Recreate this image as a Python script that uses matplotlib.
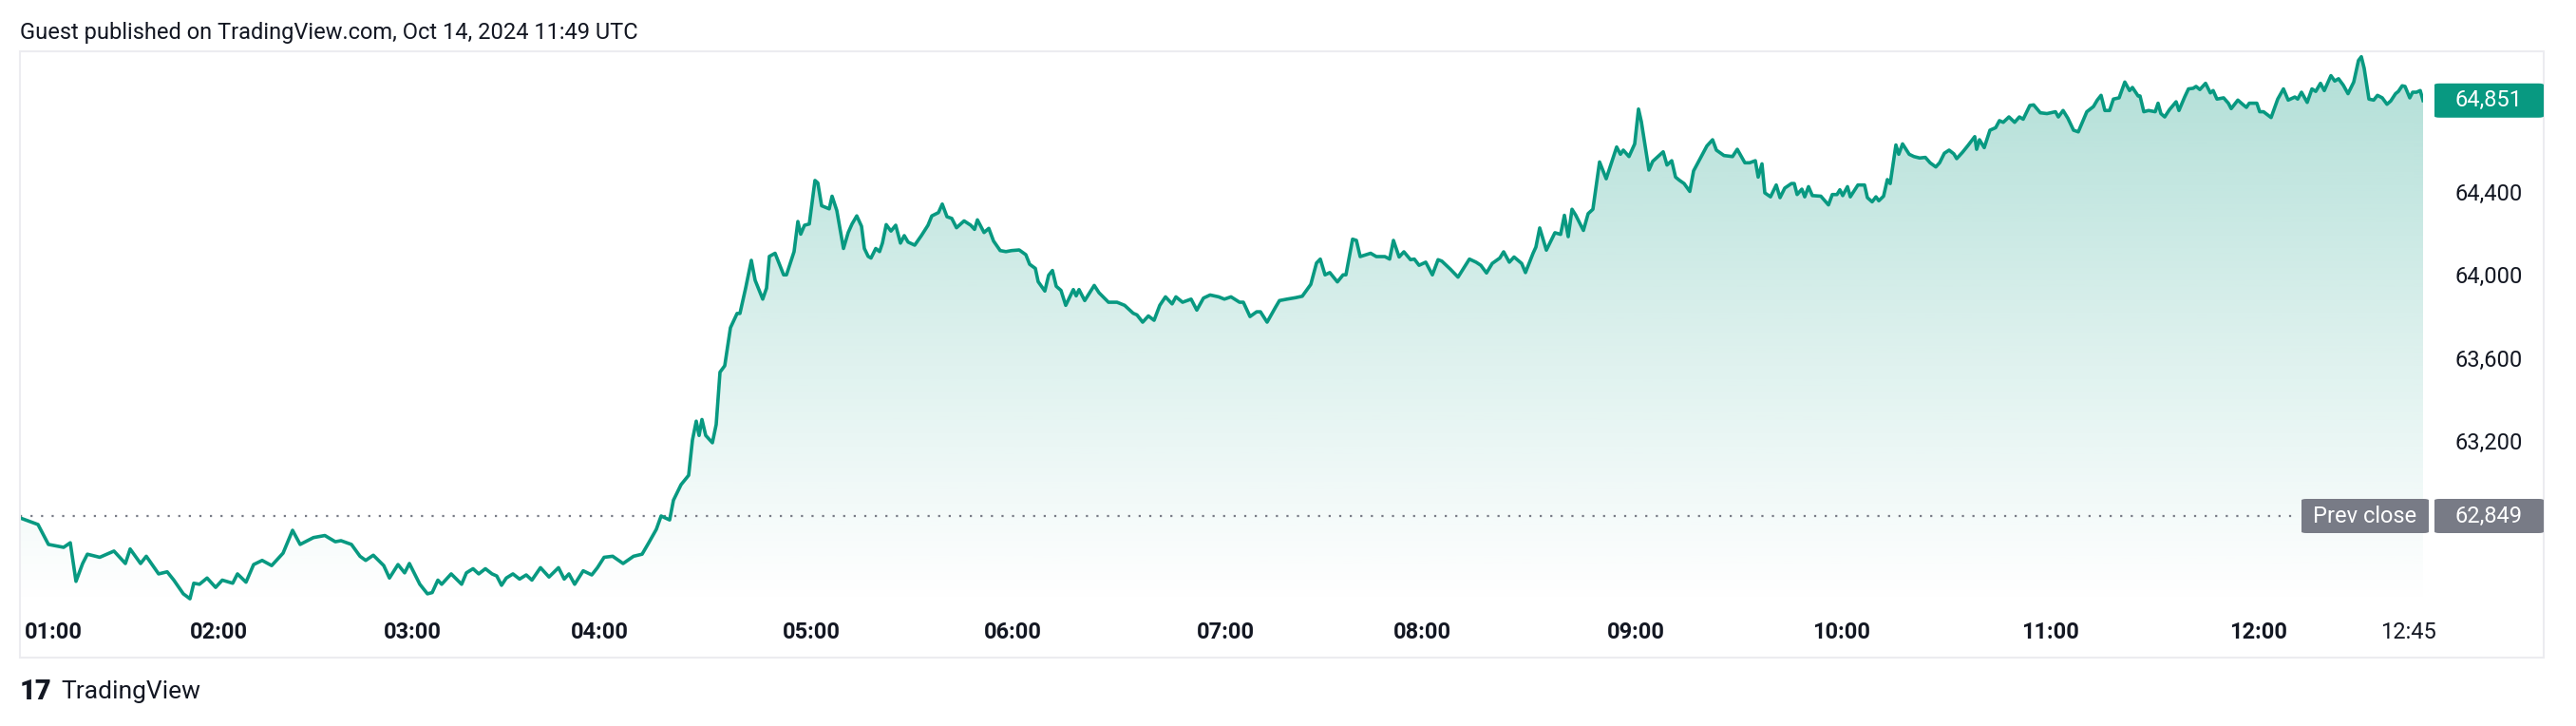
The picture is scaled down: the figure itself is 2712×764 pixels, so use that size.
import numpy as np
import matplotlib
matplotlib.use("Agg")
import matplotlib.pyplot as plt
import matplotlib.transforms as mtransforms
from matplotlib.patches import Rectangle, FancyBboxPatch

plt.rcParams['font.family'] = ['Roboto', 'DejaVu Sans']

# bar position (chart pixels) and price
bar = [21, 40, 51, 67, 74, 80, 87, 92, 105, 120, 132, 137, 148, 154, 167, 176, 183, 193, 200,
       204, 210, 218, 227, 234, 245, 250, 259, 267, 276, 286, 298, 308, 316, 330, 342, 353, 359,
       370, 379, 385, 393, 404, 410, 419, 426, 431, 442, 450, 455, 461, 465, 475, 486, 491, 498,
       504, 511, 518, 523, 528, 533, 540, 547, 554, 560, 569, 578, 588, 594, 599, 605, 614, 623,
       629, 636, 645, 656, 667, 676, 683, 691, 696, 705, 709, 717, 725, 729, 733, 736, 739, 743,
       750, 754, 758, 763, 769, 776, 779, 785, 791, 795, 803, 807, 810, 816, 825, 828, 836, 840,
       843, 847, 852, 858, 861, 865, 873, 876, 881, 888, 893, 897, 902, 907, 910, 914, 917, 922,
       926, 929, 933, 938, 943, 948, 952, 956, 963, 970, 977, 981, 988, 992, 997, 1002, 1007,
       1015, 1022, 1026, 1029, 1036, 1041, 1046, 1053, 1059, 1065, 1073, 1080, 1084, 1090, 1093,
       1100, 1104, 1108, 1112, 1117, 1122, 1130, 1133, 1136, 1142, 1152, 1157, 1167, 1176, 1184,
       1193, 1197, 1203, 1209, 1215, 1221, 1227, 1234, 1238, 1245, 1254, 1260, 1267, 1274, 1283,
       1289, 1296, 1305, 1309, 1316, 1323, 1327, 1334, 1343, 1347, 1355, 1364, 1371, 1380, 1386,
       1390, 1395, 1400, 1408, 1414, 1417, 1424, 1428, 1432, 1443, 1449, 1458, 1463, 1467, 1473,
       1478, 1485, 1489, 1494, 1501, 1508, 1514, 1518, 1527, 1535, 1547, 1554, 1559, 1565, 1571,
       1579, 1583, 1589, 1594, 1602, 1606, 1614, 1617, 1621, 1628, 1637, 1643, 1647, 1651, 1655,
       1659, 1667, 1672, 1677, 1684, 1691, 1696, 1702, 1706, 1709, 1715, 1721, 1725, 1728, 1736,
       1740, 1751, 1755, 1760, 1764, 1768, 1773, 1779, 1783, 1791, 1797, 1803, 1807, 1815, 1824,
       1829, 1837, 1842, 1848, 1851, 1855, 1858, 1864, 1870, 1874, 1879, 1886, 1889, 1892, 1897,
       1900, 1904, 1908, 1917, 1925, 1929, 1934, 1937, 1940, 1945, 1948, 1956, 1963, 1966, 1971,
       1975, 1978, 1983, 1987, 1990, 1996, 1999, 2003, 2010, 2015, 2021, 2027, 2032, 2038, 2042,
       2047, 2052, 2057, 2060, 2066, 2072, 2079, 2081, 2084, 2089, 2095, 2101, 2105, 2109, 2115,
       2121, 2126, 2130, 2137, 2141, 2148, 2155, 2164, 2167, 2172, 2177, 2183, 2188, 2197, 2204,
       2208, 2212, 2216, 2221, 2225, 2231, 2237, 2242, 2245, 2251, 2253, 2257, 2262, 2269, 2272,
       2275, 2279, 2284, 2291, 2294, 2300, 2304, 2309, 2312, 2316, 2322, 2327, 2330, 2334, 2341,
       2346, 2349, 2356, 2361, 2365, 2368, 2376, 2379, 2383, 2391, 2398, 2404, 2409, 2416, 2419,
       2423, 2429, 2434, 2438, 2443, 2447, 2454, 2458, 2462, 2467, 2472, 2478, 2483, 2486, 2489,
       2494, 2499, 2503, 2508, 2513, 2517, 2522, 2525, 2529, 2532, 2537, 2540, 2544, 2548, 2551]
price = [62840, 62808, 62712, 62698, 62720, 62534, 62620, 62665, 62650, 62680, 62620, 62690, 62620,
         62655, 62570, 62580, 62540, 62474, 62450, 62525, 62520, 62550, 62505, 62540, 62525, 62570,
         62530, 62615, 62635, 62610, 62670, 62780, 62712, 62745, 62755, 62725, 62730, 62712, 62655,
         62635, 62660, 62610, 62550, 62615, 62575, 62620, 62520, 62474, 62480, 62540, 62520, 62570,
         62520, 62575, 62595, 62570, 62595, 62570, 62560, 62515, 62550, 62570, 62545, 62565, 62540,
         62600, 62555, 62600, 62545, 62570, 62520, 62585, 62565, 62600, 62650, 62655, 62620, 62655,
         62665, 62720, 62785, 62849, 62830, 62925, 63000, 63045, 63215, 63306, 63237, 63314, 63237,
         63202, 63290, 63542, 63573, 63756, 63825, 63825, 63947, 64081, 63985, 63894, 63947, 64100,
         64115, 64011, 64011, 64123, 64268, 64207, 64250, 64256, 64466, 64454, 64344, 64329, 64390,
         64321, 64138, 64215, 64256, 64295, 64245, 64138, 64100, 64092, 64138, 64123, 64164, 64253,
         64222, 64250, 64164, 64200, 64169, 64154, 64200, 64250, 64295, 64311, 64352, 64291, 64283,
         64238, 64271, 64250, 64230, 64276, 64215, 64235, 64174, 64128, 64123, 64128, 64131, 64108,
         64062, 64042, 63978, 63933, 64009, 64032, 63956, 63936, 63864, 63940, 63910, 63940, 63887,
         63960, 63925, 63879, 63879, 63864, 63826, 63818, 63783, 63813, 63792, 63864, 63905, 63871,
         63905, 63879, 63894, 63841, 63899, 63914, 63905, 63894, 63905, 63879, 63879, 63810, 63833,
         63833, 63783, 63856, 63887, 63894, 63901, 63908, 63965, 64068, 64087, 64011, 64022, 63977,
         64011, 64011, 64183, 64177, 64099, 64115, 64099, 64099, 64087, 64177, 64097, 64122, 64084,
         64087, 64057, 64072, 64011, 64084, 64077, 64038, 64000, 64087, 64072, 64057, 64020, 64066,
         64092, 64122, 64072, 64097, 64066, 64022, 64115, 64145, 64237, 64130, 64214, 64206, 64298,
         64195, 64327, 64298, 64225, 64306, 64327, 64555, 64474, 64543, 64627, 64592, 64612, 64581,
         64642, 64810, 64749, 64516, 64558, 64604, 64540, 64561, 64482, 64467, 64451, 64413, 64512,
         64581, 64632, 64662, 64612, 64586, 64581, 64616, 64551, 64551, 64561, 64482, 64546, 64406,
         64387, 64444, 64383, 64429, 64451, 64451, 64398, 64424, 64387, 64436, 64393, 64390, 64348,
         64398, 64398, 64421, 64393, 64436, 64387, 64444, 64444, 64383, 64363, 64387, 64368, 64390,
         64470, 64451, 64637, 64592, 64642, 64592, 64581, 64574, 64577, 64551, 64531, 64551, 64597,
         64612, 64594, 64571, 64601, 64635, 64677, 64616, 64662, 64624, 64708, 64720, 64754, 64746,
         64772, 64746, 64772, 64761, 64827, 64830, 64792, 64788, 64797, 64772, 64803, 64766, 64708,
         64700, 64797, 64822, 64853, 64876, 64803, 64803, 64858, 64864, 64940, 64899, 64914, 64873,
         64873, 64797, 64803, 64797, 64838, 64788, 64772, 64807, 64845, 64803, 64868, 64907, 64910,
         64919, 64904, 64934, 64888, 64899, 64858, 64864, 64838, 64812, 64853, 64833, 64818, 64838,
         64838, 64797, 64797, 64769, 64858, 64907, 64853, 64868, 64858, 64891, 64842, 64907, 64895,
         64934, 64899, 64971, 64945, 64956, 64925, 64884, 64940, 65044, 65062, 65006, 64858, 64853,
         64876, 64864, 64833, 64849, 64884, 64895, 64922, 64919, 64864, 64891, 64891, 64899, 64851]

tick_bar = [56, 230, 434, 631, 854, 1066, 1290, 1497, 1722, 1939, 2158, 2378, 2535]
tick_text = ["01:00", "02:00", "03:00", "04:00", "05:00", "06:00", "07:00",
             "08:00", "09:00", "10:00", "11:00", "12:00", "12:45"]
price_ticks = [63200, 63600, 64000, 64400]
prev_close = 62849
last_price = 64851

GREEN = "#089981"
W, H = 2712, 764
fig = plt.figure(figsize=(W / 100, H / 100), dpi=100)
fig.patch.set_facecolor("white")

# chart frame in pixels
fl, fr, ft, fb = 21, 2678, 54, 692
ax_l, ax_r, ax_t, ax_b = 21, 2551, 56, 640
ax = fig.add_axes([ax_l / W, 1 - ax_b / H, (ax_r - ax_l) / W, (ax_b - ax_t) / H])
y_top = prev_close + (543 - ax_t) * 4.579
y_bot = prev_close + (543 - ax_b) * 4.579
ax.axis("off")

fig.patches.append(Rectangle((fl / W, 1 - fb / H), (fr - fl) / W, (fb - ft) / H,
                             transform=fig.transFigure, fill=False,
                             edgecolor="#ececf0", linewidth=1.5))

# gradient fill under the line
grad = np.linspace(0, 1, 256)
rgba = np.zeros((256, 1, 4))
rgba[..., :3] = matplotlib.colors.to_rgb(GREEN)
rgba[:, 0, 3] = 0.32 * grad ** 1.1
img = ax.imshow(rgba, extent=[bar[0], bar[-1], y_bot, max(price)], origin="lower",
                aspect="auto", zorder=1)
poly = ax.fill_between(bar, price, y_bot, color="none")
img.set_clip_path(poly.get_paths()[0], transform=ax.transData)

ax.plot(bar, price, color=GREEN, linewidth=2.6, zorder=3)
ax.plot([21, 2420], [prev_close, prev_close], color="#787b86", linewidth=1.6,
        linestyle=(0, (1, 4)), zorder=2)

ax.set_xlim(21, 2551)
ax.set_ylim(y_bot, y_top)

# time axis labels
for b, t in zip(tick_bar, tick_text):
    fig.text(b / W, 1 - 666 / H, t, ha="center", va="center", fontsize=17,
             color="#131722", weight="normal" if t == "12:45" else "bold")

# price axis labels
trans = mtransforms.blended_transform_factory(fig.transFigure, ax.transData)
for p in price_ticks:
    ax.text(2620 / W, p, f"{p:,}", transform=trans, ha="center", va="center",
            fontsize=17, color="#131722", clip_on=False)


def fig_y(p):
    return ax.transData.transform((0, p))[1] / H


def tag(x0, x1, y, text, color):
    h = 36 / H
    fig.patches.append(FancyBboxPatch((x0 / W, y - h / 2), (x1 - x0) / W, h,
                                      boxstyle="round,pad=0,rounding_size=0.002",
                                      transform=fig.transFigure, facecolor=color,
                                      edgecolor="none"))
    fig.text((x0 + x1) / 2 / W, y, text, ha="center", va="center", fontsize=17, color="white")


tag(2563, 2678, fig_y(last_price), f"{last_price:,}", GREEN)
tag(2423, 2557, fig_y(prev_close), "Prev close", "#787b86")
tag(2563, 2678, fig_y(prev_close), f"{prev_close:,}", "#787b86")

fig.text(21 / W, 1 - 35 / H, "Guest published on TradingView.com, Oct 14, 2024 11:49 UTC",
         ha="left", va="center", fontsize=17, color="#131722")
fig.text(21 / W, 1 - 728 / H, "17", ha="left", va="center", fontsize=21,
         color="#131722", weight="heavy")
fig.text(64 / W, 1 - 728 / H, "TradingView", ha="left", va="center", fontsize=19,
         color="#131722")

fig.savefig("out.png", dpi=100, facecolor="white")
